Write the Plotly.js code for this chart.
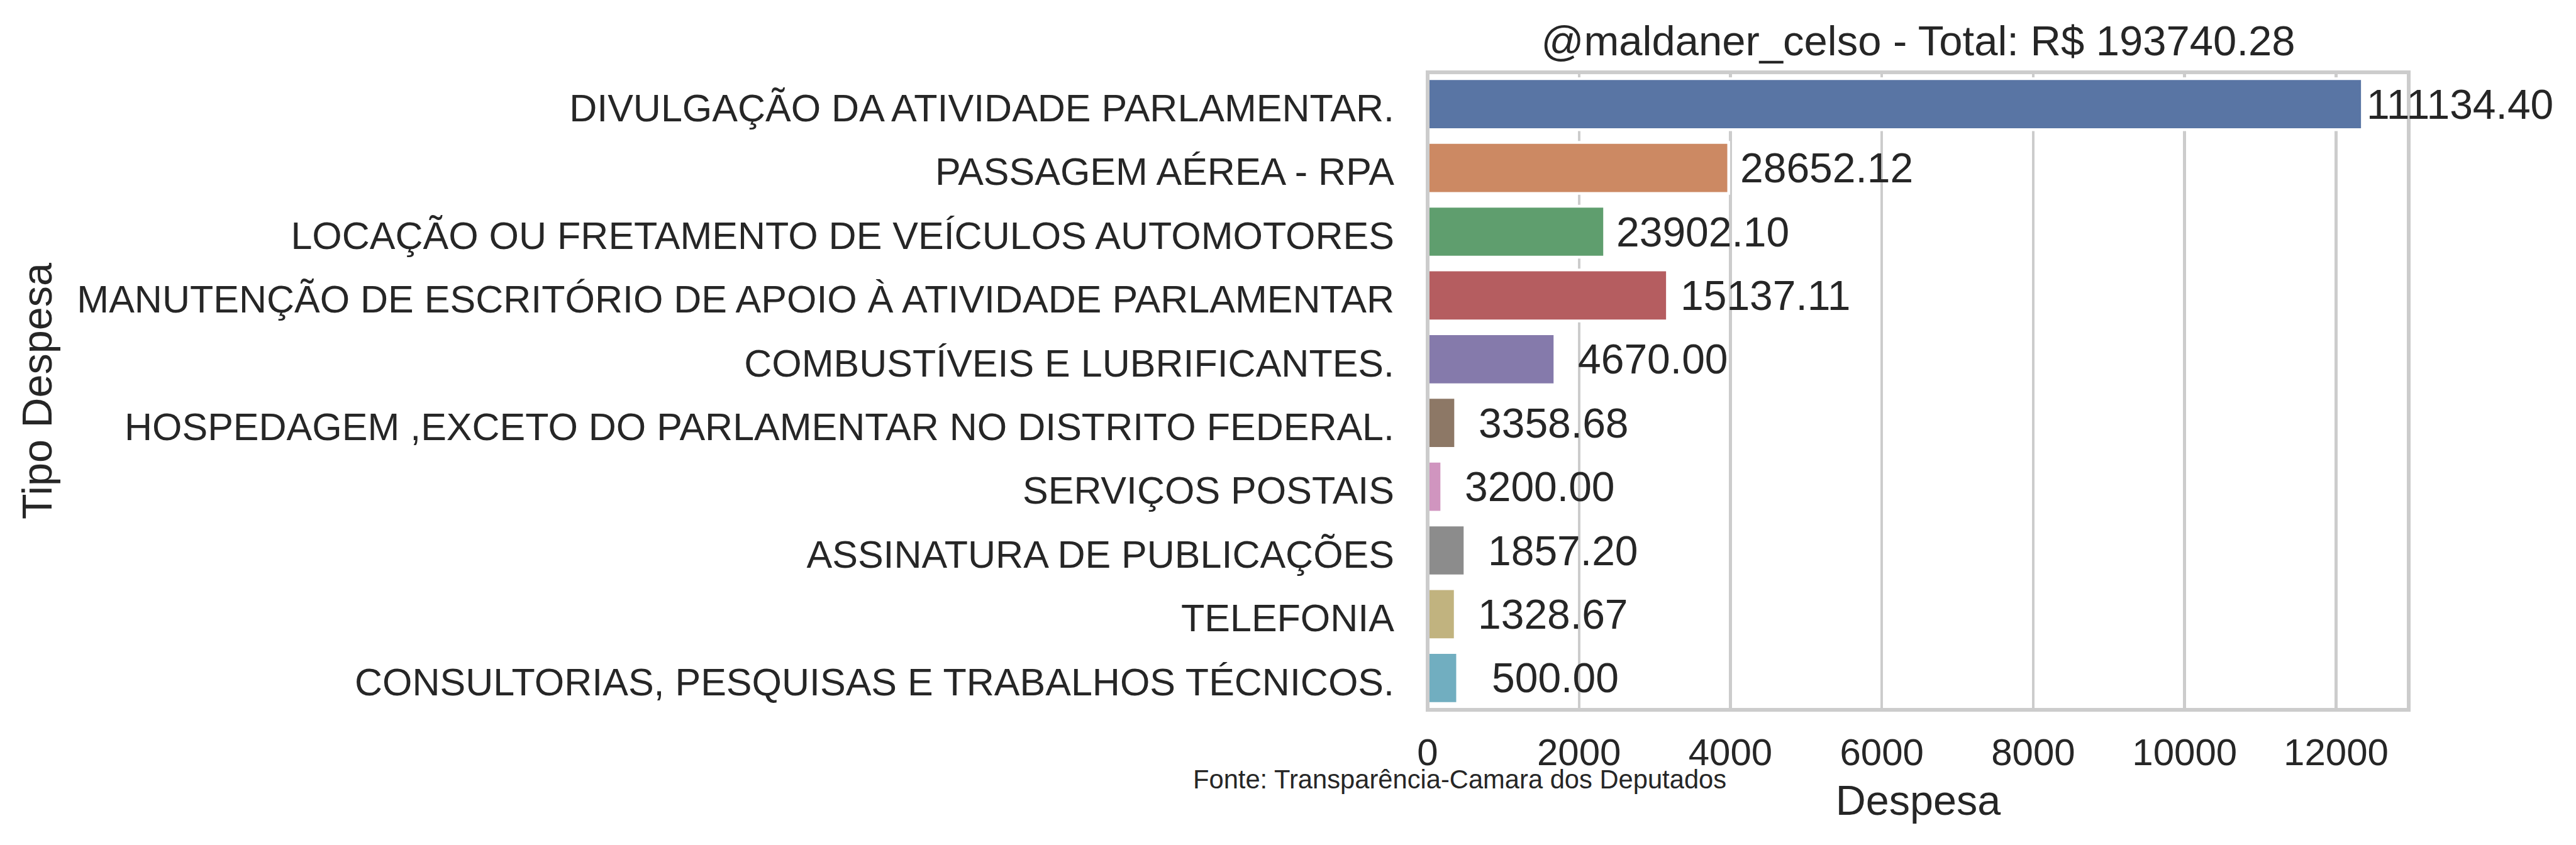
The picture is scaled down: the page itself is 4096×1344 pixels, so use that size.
<!DOCTYPE html>
<html>
<head>
<meta charset="utf-8">
<script src="https://cdn.plot.ly/plotly-3.0.1.min.js"></script>
<style>
  html, body { margin: 0; padding: 0; background: #ffffff; }
  #chart { width: 4096px; height: 1344px; }
</style>
</head>
<body>
<div id="chart"></div>
<script>
// ---- data ----
const categories = [
  "DIVULGAÇÃO DA ATIVIDADE PARLAMENTAR.",
  "PASSAGEM AÉREA - RPA",
  "LOCAÇÃO OU FRETAMENTO DE VEÍCULOS AUTOMOTORES",
  "MANUTENÇÃO DE ESCRITÓRIO DE APOIO À ATIVIDADE PARLAMENTAR",
  "COMBUSTÍVEIS E LUBRIFICANTES.",
  "HOSPEDAGEM ,EXCETO DO PARLAMENTAR NO DISTRITO FEDERAL.",
  "SERVIÇOS POSTAIS",
  "ASSINATURA DE PUBLICAÇÕES",
  "TELEFONIA",
  "CONSULTORIAS, PESQUISAS E TRABALHOS TÉCNICOS."
];
// bar lengths as drawn on the Despesa axis
const barValues = [12348, 3977, 2338, 3168, 1682, 370, 187, 494, 365, 396];
// totals printed next to each bar
const totals = [111134.40, 28652.12, 23902.10, 15137.11, 4670.00, 3358.68, 3200.00, 1857.20, 1328.67, 500.00];
const barColors = ["#5975a4", "#cc8963", "#5f9e6e", "#b55d60", "#857aab",
                   "#8d7866", "#d095bf", "#8c8c8c", "#c1b37f", "#71aec0"];
const xTicks = [0, 2000, 4000, 6000, 8000, 10000, 12000];
const titleText = "@maldaner_celso - Total: R$ 193740.28";
const xTitle = "Despesa";
const yTitle = "Tipo Despesa";
const sourceText = "Fonte: Transparência-Camara dos Deputados";

// ---- styling ----
const FONT = "Liberation Sans, Arial, Helvetica, sans-serif";
const TXT = "#262626";
const GRID = "#cccccc";

const trace = {
  type: "bar",
  orientation: "h",
  x: barValues,
  y: categories,
  width: 0.8,
  marker: { color: barColors, line: { color: "#ffffff", width: 4.4 } },
  hoverinfo: "skip",
  showlegend: false
};

const valueLabels = totals.map((t, i) => ({
  x: barValues[i],
  y: categories[i],
  xref: "x",
  yref: "y",
  text: t.toFixed(2),
  showarrow: false,
  xanchor: "center",
  yanchor: "middle",
  xshift: 155.6,
  font: { family: FONT, size: 66, color: TXT }
}));

const sourceNote = {
  xref: "paper", yref: "paper",
  x: -0.2407, y: -0.1089,
  xanchor: "left", yanchor: "middle",
  text: sourceText,
  showarrow: false,
  font: { family: FONT, size: 41.7, color: TXT }
};

const layout = {
  width: 4096,
  height: 1344,
  paper_bgcolor: "#ffffff",
  plot_bgcolor: "#ffffff",
  margin: { l: 2269.5, r: 266.4, t: 115.4, b: 215.1, pad: 0 },
  font: { family: FONT, color: TXT },
  title: {
    text: titleText,
    x: 0.5, xref: "paper", xanchor: "center",
    y: 1, yref: "paper", yanchor: "bottom",
    pad: { b: 27 },
    font: { family: FONT, size: 67, color: TXT }
  },
  xaxis: {
    range: [0, 12960],
    tickvals: xTicks,
    ticktext: xTicks.map(String),
    showgrid: true,
    gridcolor: GRID,
    gridwidth: 4.4,
    zeroline: false,
    showline: false,
    ticks: "",
    ticklabelstandoff: 27,
    tickfont: { family: FONT, size: 60, color: TXT },
    title: { text: xTitle, standoff: 20, font: { family: FONT, size: 66.5, color: TXT } },
    fixedrange: true
  },
  yaxis: {
    type: "category",
    categoryorder: "array",
    categoryarray: categories,
    range: [9.5, -0.5],
    showgrid: false,
    zeroline: false,
    showline: false,
    ticks: "",
    ticklabelstandoff: 52,
    ticklabelshift: -6,
    tickfont: { family: FONT, size: 61, color: TXT },
    title: { text: yTitle, standoff: 17.8, font: { family: FONT, size: 66.5, color: TXT } },
    fixedrange: true
  },
  shapes: [{
    type: "rect", xref: "paper", yref: "paper",
    x0: 0, x1: 1, y0: 0, y1: 1,
    line: { color: GRID, width: 6 },
    fillcolor: "rgba(0,0,0,0)",
    layer: "above"
  }],
  annotations: valueLabels.concat([sourceNote]),
  bargap: 0.2
};

Plotly.newPlot("chart", [trace], layout, { displayModeBar: false, staticPlot: true });
</script>
</body>
</html>
